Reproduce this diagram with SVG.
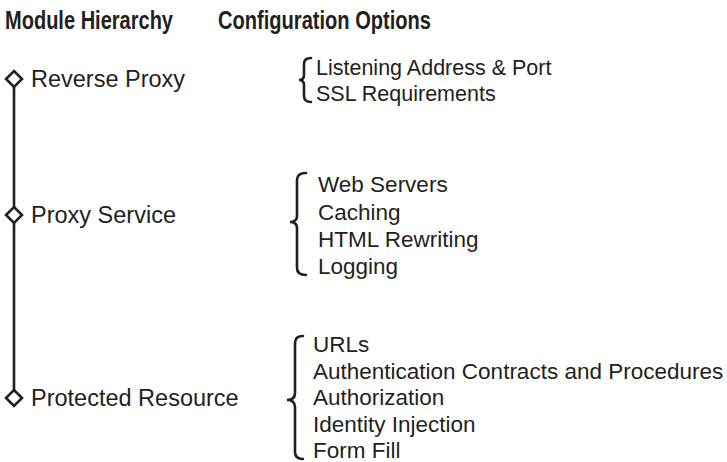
<svg xmlns="http://www.w3.org/2000/svg" width="727" height="462" viewBox="0 0 727 462">
<style>
.hdr{font-family:"Liberation Sans",Arial,sans-serif;font-weight:bold;font-size:25px;fill:#231f20}
.lbl{font-family:"Liberation Sans",Arial,sans-serif;font-size:23.5px;fill:#231f20}
.opt{font-family:"Liberation Sans",Arial,sans-serif;font-size:22.5px;fill:#231f20}
.opt1{font-family:"Liberation Sans",Arial,sans-serif;font-size:21.5px;fill:#231f20}
.dia{fill:#fff;stroke:#231f20;stroke-width:2.6}
.brace{fill:none;stroke:#231f20;stroke-width:2.6;stroke-linecap:round}
.conn{stroke:#231f20;stroke-width:2.6;fill:none}
</style>
<rect width="727" height="462" fill="#fff"/>
<g id="headers">
<text class="hdr" x="5" y="29" textLength="168" lengthAdjust="spacingAndGlyphs">Module Hierarchy</text>
<text class="hdr" x="218" y="29" textLength="213" lengthAdjust="spacingAndGlyphs">Configuration Options</text>
</g>
<g id="connectors">
<line class="conn" x1="14" y1="87" x2="14" y2="390"/>
</g>
<g id="reverse-proxy">
<path class="dia" d="M14,71 L22,79 L14,87 L6,79 Z"/>
<text class="lbl" x="31" y="87">Reverse Proxy</text>
</g>
<g id="proxy-service">
<path class="dia" d="M14,207 L22,215 L14,223 L6,215 Z"/>
<text class="lbl" x="31" y="223">Proxy Service</text>
</g>
<g id="protected-resource">
<path class="dia" d="M14,390 L22,398 L14,406 L6,398 Z"/>
<text class="lbl" x="31" y="406">Protected Resource</text>
</g>
<g id="reverse-proxy-options">
<path class="brace" d="M311,58 Q304,58 304,64 L304,75 Q304,80 299,80 Q304,80 304,85 L304,96 Q304,102 311,102"/>
<text class="opt1" x="316" y="75">Listening Address &amp; Port</text>
<text class="opt1" x="316" y="101">SSL Requirements</text>
</g>
<g id="proxy-service-options">
<path class="brace" d="M306,173 Q297,173 297,180 L297,216 Q297,222 290,222 Q297,222 297,228 L297,268 Q297,275 306,275"/>
<text class="opt" x="318" y="192">Web Servers</text>
<text class="opt" x="318" y="220">Caching</text>
<text class="opt" x="318" y="247">HTML Rewriting</text>
<text class="opt" x="318" y="274">Logging</text>
</g>
<g id="protected-resource-options">
<path class="brace" d="M303,336 Q295,336 295,343 L295,393 Q295,400 287,400 Q295,400 295,407 L295,452 Q295,459 303,459"/>
<text class="opt" x="313" y="352">URLs</text>
<text class="opt" x="313" y="379">Authentication Contracts and Procedures</text>
<text class="opt" x="313" y="405">Authorization</text>
<text class="opt" x="313" y="432">Identity Injection</text>
<text class="opt" x="313" y="458">Form Fill</text>
</g>
</svg>
